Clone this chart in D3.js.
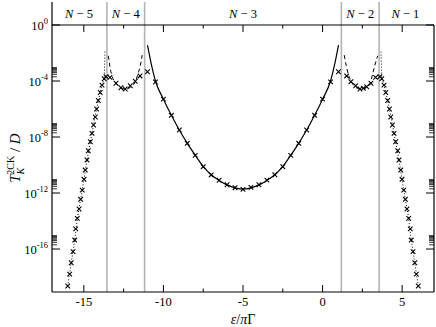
<!DOCTYPE html>
<html>
<head>
<meta charset="utf-8">
<script src="https://cdn.jsdelivr.net/npm/d3@7"></script>
<style>
  body { margin: 0; background: #fff; }
  svg { font-family: "Liberation Serif", "DejaVu Serif", serif; }
</style>
</head>
<body>
<svg id="chart" width="436" height="327"></svg>
<script>
// exponents: value = 10^e
const yTicksExp = [0, -4, -8, -12, -16];
const xTicks = [-15, -10, -5, 0, 5];
const xMinor = [-12.5, -7.5, -2.5, 2.5];
const boundaries = [-13.55, -11.18, 1.18, 3.55];
const regionLabels = [
  { x: -15.3, t: "5" }, { x: -12.37, t: "4" }, { x: -5, t: "3" },
  { x: 2.37, t: "2" }, { x: 5.2, t: "1" }
];

// NRG points (crosses)
const crossX_N3 = [-11, -10.5, -10, -9.5, -9, -8.5, -8, -7.5, -7, -6.5, -6, -5.5, -5,
  -4.5, -4, -3.5, -3, -2.5, -2, -1.5, -1, -0.5, 0, 0.5, 1];
const crossE_N3 = [-3.34, -4.07, -5.29, -6.45, -7.5, -8.45, -9.31, -10.12, -10.71, -11.09, -11.41, -11.62, -11.74,
  -11.6, -11.41, -11.08, -10.7, -10.12, -9.31, -8.45, -7.5, -6.45, -5.29, -4.06, -3.34];
const crossX_N4 = [-13.36, -12.98, -12.67, -12.4, -12.08, -11.77, -11.47];
const crossE_N4 = [-3.74, -4.16, -4.48, -4.57, -4.34, -4.02, -3.64];
const crossX_N2 = [1.51, 1.78, 2.08, 2.35, 2.56, 2.77, 3.04, 3.33];
const crossE_N2 = [-3.64, -4.05, -4.34, -4.57, -4.52, -4.41, -4.16, -3.74];
const crossX_N5 = [-13.6, -13.72, -13.86, -13.97, -14.09, -14.2, -14.28, -14.39, -14.49, -14.59, -14.72, -14.8,
  -14.91, -14.99, -15.1, -15.2, -15.3, -15.41, -15.51, -15.57, -15.68, -15.79, -15.89, -16.01];
const crossE_N5 = [-3.69, -3.84, -4.29, -4.82, -5.39, -6.0, -6.57, -7.14, -7.74, -8.34, -8.98, -9.64,
  -10.36, -11.02, -11.79, -12.45, -13.14, -13.81, -14.56, -15.36, -16.19, -16.98, -17.79, -18.64];
const crossX_N1 = [3.6, 3.72, 3.86, 3.97, 4.09, 4.2, 4.28, 4.39, 4.49, 4.59, 4.72, 4.8,
  4.91, 4.99, 5.1, 5.2, 5.3, 5.41, 5.51, 5.57, 5.68, 5.79, 5.89, 6.01];
const crossE_N1 = [-3.69, -3.84, -4.29, -4.82, -5.39, -6.0, -6.57, -7.14, -7.74, -8.34, -8.98, -9.64,
  -10.36, -11.02, -11.79, -12.45, -13.14, -13.81, -14.56, -15.36, -16.19, -16.98, -17.79, -18.64];

// analytic curves
const solidX = [-11, -10.75, -10.5, -10, -9.5, -9, -8.5, -8, -7.5, -7, -6.5, -6, -5.5, -5,
  -4.5, -4, -3.5, -3, -2.5, -2, -1.5, -1, -0.5, 0, 0.5, 0.75, 1];
const solidE = [-1.43, -2.85, -4.0, -5.3, -6.45, -7.5, -8.45, -9.3, -10.1, -10.7, -11.1, -11.42, -11.63, -11.72,
  -11.63, -11.42, -11.1, -10.7, -10.1, -9.3, -8.45, -7.5, -6.45, -5.3, -4.0, -2.85, -1.43];
const dashX_N4 = [-13.46, -13.36, -13.25, -13.0, -12.7, -12.38, -12.05, -11.75, -11.62, -11.47, -11.33];
const dashE_N4 = [-2.2, -2.98, -3.57, -4.12, -4.45, -4.58, -4.42, -4.02, -3.57, -2.98, -2.15];
const dashX_N2 = [1.36, 1.5, 1.63, 1.8, 2.05, 2.38, 2.7, 3.0, 3.13, 3.26, 3.46];
const dashE_N2 = [-2.15, -2.98, -3.57, -4.02, -4.42, -4.58, -4.45, -4.12, -3.57, -2.98, -2.2];
const dotX_N5 = [-13.67, -13.72, -13.86, -13.97, -14.09, -14.2, -14.39, -14.59, -14.8, -14.99, -15.2,
  -15.41, -15.57, -15.79, -16.01];
const dotE_N5 = [-1.9, -3.84, -4.29, -4.82, -5.39, -6.0, -7.14, -8.34, -9.64, -11.02, -12.45,
  -13.81, -15.36, -16.98, -18.64];
const dotX_N1 = [3.67, 3.72, 3.86, 3.97, 4.09, 4.2, 4.39, 4.59, 4.8, 4.99, 5.2,
  5.41, 5.57, 5.79, 6.01];
const dotE_N1 = [-1.9, -3.84, -4.29, -4.82, -5.39, -6.0, -7.14, -8.34, -9.64, -11.02, -12.45,
  -13.81, -15.36, -16.98, -18.64];

const svg = d3.select("#chart");
const mLeft = 52, mRight = 434, mTop = 25, mBottom = 292;

const x = d3.scaleLinear().domain([-17, 7]).range([mLeft, mRight]);
const y = d3.scaleLog().domain([Math.pow(10, -19.07), 1]).range([mBottom, mTop]);
const pt = (xs, es) => xs.map((v, i) => [v, Math.pow(10, es[i])]);

// region separators
svg.append("g")
  .selectAll("line")
  .data(boundaries)
  .enter()
  .append("line")
  .attr("x1", d => x(d)).attr("x2", d => x(d))
  .attr("y1", 2).attr("y2", mBottom)
  .attr("stroke", "#b4b4b4")
  .attr("stroke-width", 1.6);

// frame
const frame = svg.append("g").attr("stroke", "#000").attr("stroke-width", 1.2).attr("fill", "none");
frame.append("line").attr("x1", mLeft).attr("x2", mLeft).attr("y1", 2).attr("y2", mBottom);
frame.append("line").attr("x1", mRight).attr("x2", mRight).attr("y1", mTop).attr("y2", mBottom);
frame.append("line").attr("x1", mLeft).attr("x2", mRight).attr("y1", mTop).attr("y2", mTop);
frame.append("line").attr("x1", mLeft).attr("x2", mRight).attr("y1", mBottom).attr("y2", mBottom);

// x ticks (inside, bottom and top)
const tickG = svg.append("g").attr("stroke", "#000").attr("stroke-width", 1);
xTicks.forEach(v => {
  tickG.append("line").attr("x1", x(v)).attr("x2", x(v)).attr("y1", mBottom).attr("y2", mBottom - 7);
  tickG.append("line").attr("x1", x(v)).attr("x2", x(v)).attr("y1", mTop).attr("y2", mTop + 7);
});
xMinor.forEach(v => {
  tickG.append("line").attr("x1", x(v)).attr("x2", x(v)).attr("y1", mBottom).attr("y2", mBottom - 3.5);
  tickG.append("line").attr("x1", x(v)).attr("x2", x(v)).attr("y1", mTop).attr("y2", mTop + 3.5);
});

// y ticks (inside, left and right) with minor combs
yTicksExp.forEach(e => {
  const yy = y(Math.pow(10, e));
  tickG.append("line").attr("x1", mLeft).attr("x2", mLeft + 8).attr("y1", yy).attr("y2", yy);
  tickG.append("line").attr("x1", mRight).attr("x2", mRight - 8).attr("y1", yy).attr("y2", yy);
  if (e < 0) {
    d3.range(2, 10).forEach(m => {
      const ym = y(m * Math.pow(10, e));
      tickG.append("line").attr("x1", mLeft).attr("x2", mLeft + 5).attr("y1", ym).attr("y2", ym).attr("stroke-width", 0.8);
      tickG.append("line").attr("x1", mRight).attr("x2", mRight - 5).attr("y1", ym).attr("y2", ym).attr("stroke-width", 0.8);
    });
  }
});

// x tick labels
svg.append("g")
  .selectAll("text")
  .data(xTicks)
  .enter()
  .append("text")
  .attr("x", d => x(d))
  .attr("y", mBottom + 14)
  .attr("text-anchor", "middle")
  .attr("font-size", 12.5)
  .text(d => d);

// y tick labels
const yl = svg.append("g").attr("font-size", 12.5).attr("text-anchor", "end");
yTicksExp.forEach(e => {
  const t = yl.append("text").attr("x", 48).attr("y", y(Math.pow(10, e)) + 5);
  t.append("tspan").text("10");
  t.append("tspan").attr("font-size", 8.5).attr("dy", -6).text(e);
});

// region labels
const rl = svg.append("g").attr("font-size", 12.5).attr("text-anchor", "middle");
regionLabels.forEach(d => {
  const t = rl.append("text").attr("x", x(d.x)).attr("y", 18);
  t.append("tspan").attr("font-style", "italic").text("N");
  t.append("tspan").text(" \u2212 " + d.t);
});

// axis titles
const xt = svg.append("text").attr("x", x(-5)).attr("y", 324).attr("text-anchor", "middle").attr("font-size", 14);
xt.append("tspan").attr("font-style", "italic").text("\u03B5");
xt.append("tspan").text("/");
xt.append("tspan").attr("font-style", "italic").text("\u03C0");
xt.append("tspan").text("\u0393");

const ytl = svg.append("text")
  .attr("transform", "translate(20,158) rotate(-90)")
  .attr("text-anchor", "middle")
  .attr("font-size", 15);
ytl.append("tspan").attr("font-style", "italic").text("T");
ytl.append("tspan").attr("font-size", 10).attr("font-style", "italic").attr("dy", 4).text("K");
ytl.append("tspan").attr("font-size", 10).attr("dx", -7).attr("dy", -10).text("2CK");
ytl.append("tspan").attr("dy", 6).text(" /");
ytl.append("tspan").attr("font-style", "italic").text(" D");

// curves
const line = d3.line().x(d => x(d[0])).y(d => y(d[1])).curve(d3.curveMonotoneX);
const curves = svg.append("g").attr("fill", "none").attr("stroke", "#000");
curves.append("path").datum(pt(solidX, solidE)).attr("d", line).attr("stroke-width", 1.2);
[[dashX_N4, dashE_N4], [dashX_N2, dashE_N2]].forEach(c => {
  curves.append("path").datum(pt(c[0], c[1])).attr("d", line)
    .attr("stroke-width", 1).attr("stroke-dasharray", "4,3");
});
const lineY = d3.line().x(d => x(d[0])).y(d => y(d[1]));
[[dotX_N5, dotE_N5], [dotX_N1, dotE_N1]].forEach(c => {
  curves.append("path").datum(pt(c[0], c[1])).attr("d", lineY)
    .attr("stroke-width", 1).attr("stroke-dasharray", "1,2");
});

// crosses
const crosses = [].concat(
  pt(crossX_N3, crossE_N3), pt(crossX_N4, crossE_N4), pt(crossX_N2, crossE_N2),
  pt(crossX_N5, crossE_N5), pt(crossX_N1, crossE_N1));
svg.append("g")
  .selectAll("path")
  .data(crosses)
  .enter()
  .append("path")
  .attr("transform", d => `translate(${x(d[0])},${y(d[1])})`)
  .attr("d", "M-2.3,-2.3L2.3,2.3M-2.3,2.3L2.3,-2.3")
  .attr("stroke", "#000")
  .attr("stroke-width", 1.1);
</script>
</body>
</html>
